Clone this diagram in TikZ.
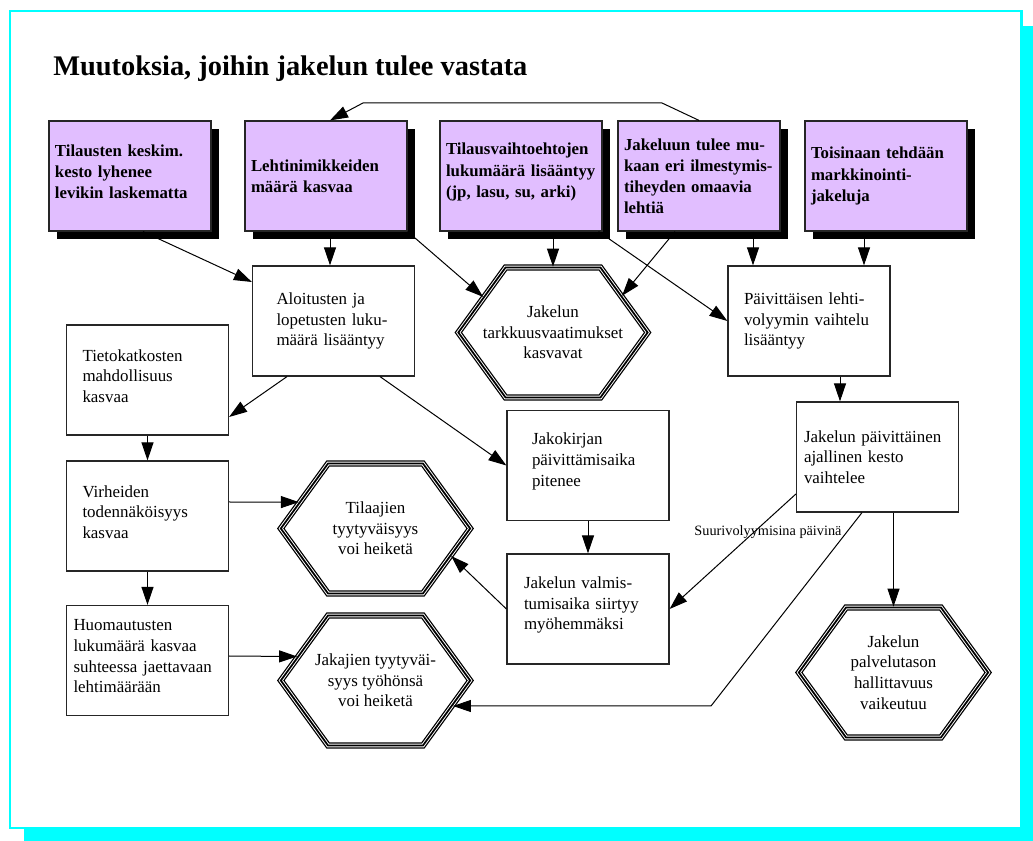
\documentclass[tikz,border=0pt]{standalone}
\usepackage{fontspec}
\setmainfont{Liberation Serif}
\usetikzlibrary{arrows.meta,calc,shadows,shapes.symbols}
\definecolor{lila}{RGB}{225,190,255}
\definecolor{syaani}{RGB}{0,255,255}
\newcommand{\alaraja}{\endgraf\vspace{6pt}}

\begin{document}
\begin{tikzpicture}[x=0.75pt,y=-0.75pt,
    laatikko/.style={draw=black!85, line width=0.9pt, fill=white, minimum width=121.5pt,
      minimum height=82.5pt, inner sep=0pt, align=left, text width=97.5pt,
      font=\fontsize{12.7}{15.5}\selectfont},
    nosto/.style={execute at end node=\alaraja},
    ylaboksi/.style={laatikko, fill=lila, text width=112.5pt,
      font=\fontsize{12.6}{15.8}\selectfont\bfseries,
      drop shadow={shadow xshift=6pt, shadow yshift=-6pt, fill=black, opacity=1}},
    kuusikulmio/.style={shape=signal, signal to=west and east, signal pointer angle=108,
      minimum width=142pt, minimum height=97.5pt, inner xsep=-22pt, inner ysep=0pt,
      align=center, font=\fontsize{12.7}{15.5}\selectfont, draw, line width=1.3pt,
      preaction={draw, line width=4.6pt}, preaction={draw=white, line width=2.7pt}},
    nuoli/.style={-{Triangle[length=13.5pt,width=9pt]}, line width=0.75pt},
    selite/.style={font=\fontsize{10.7}{12}\selectfont, inner sep=0pt}]
  \useasboundingbox (0,0) rectangle (1033,841);
  \fill[syaani] (24,26) rectangle (1033,841);
  \draw[syaani, line width=1.8pt, fill=white] (9.8,11) rectangle (1021.5,828);

  \node[anchor=base west, inner sep=0pt, font=\fontsize{21.3}{25}\selectfont\bfseries]
    (otsikko) at (53,76) {Muutoksia, joihin jakelun tulee vastata};

  \node[ylaboksi, nosto] (b1) at (130,176) {Tilausten keskim.\\kesto lyhenee\\levikin laskematta};
  \node[ylaboksi] (b2) at (326,176) {Lehtinimikkeiden\\määrä kasvaa};
  \node[ylaboksi, nosto] (b3) at (521,176) {Tilausvaihtoehtojen\\lukumäärä lisääntyy\\(jp, lasu, su, arki)};
  \node[ylaboksi] (b4) at (699,176) {Jakeluun tulee mu-\\kaan eri ilmestymis-\\tiheyden omaavia\\lehtiä};
  \node[ylaboksi] (b5) at (886,176) {Toisinaan tehdään\\markkinointi-\\jakeluja};

  \node[laatikko, text width=85.5pt] (aloit) at (333.5,321) {Aloitusten ja\\lopetusten luku-\\määrä lisääntyy};
  \node[kuusikulmio] (tark) at (553,332.5) {Jakelun\\tarkkuusvaatimukset\\kasvavat};
  \node[laatikko] (paiv) at (809,321) {Päivittäisen lehti-\\volyymin vaihtelu\\lisääntyy};
  \node[laatikko, nosto] (tietok) at (147.5,380) {Tietokatkosten\\mahdollisuus\\kasvaa};
  \node[laatikko, nosto, text width=84pt] (jakok) at (588,465.5) {Jakokirjan\\päivittämisaika\\pitenee};
  \node[laatikko, text width=110.25pt] (jakpaiv) at (877.5,457) {Jakelun päivittäinen\\ajallinen kesto\\vaihtelee};
  \node[laatikko, nosto] (virh) at (147.5,516) {Virheiden\\todennäköisyys\\kasvaa};
  \node[kuusikulmio] (tilaajat) at (375.5,528.5) {Tilaajien\\tyytyväisyys\\voi heiketä};
  \node[laatikko, nosto, text width=96pt] (valmis) at (588,609) {Jakelun valmis-\\tumisaika siirtyy\\myöhemmäksi};
  \node[laatikko, nosto, text width=111pt] (huom) at (147.5,660.5) {Huomautusten\\lukumäärä kasvaa\\suhteessa jaettavaan\\lehtimäärään};
  \node[kuusikulmio] (jakajat) at (375.5,680.5) {Jakajien tyytyväi-\\syys työhönsä\\voi heiketä};
  \node[kuusikulmio] (palvelu) at (893.5,672.5) {Jakelun\\palvelutason\\hallittavuus\\vaikeutuu};

  \node[selite] (suuri) at (768,532) {Suurivolyymisina päivinä};
  \coordinate (k1) at (662,103);
  \coordinate (k2) at (363,103);
  \coordinate (kulma) at (711,706);

  \begin{scope}[nuoli]
    \draw (b4.north) -- (k1) -- (k2) -- ($(b2.north)+(4,0)$);
    \draw ($(b1.south)+(13,0)$) -- ($(aloit.west)+(0,-39)$);
    \draw ($(b2.south)+(4,0)$) -- ($(aloit.north)+(-3.5,0)$);
    \draw (b2.south east) -- (tark.153);
    \draw ($(b3.south)+(32,0)$) -- (tark.north);
    \draw ($(b3.south east)+(-4,0)$) -- (paiv.west);
    \draw ($(b4.south)+(-24,0)$) -- (tark.28);
    \draw ($(b4.south)+(54,0)$) -- ($(paiv.north)+(-56,0)$);
    \draw ($(b5.south)+(-22,0)$) -- ($(paiv.north)+(55,0)$);
    \draw ($(aloit.south)+(-46.5,0)$) -- ($(tietok.east)+(0,37)$);
    \draw ($(aloit.south)+(46.5,0)$) -- (jakok.west);
    \draw (tietok) -- (virh);
    \draw ($(virh.east)+(0,-14)$) -- (tilaajat.161);
    \draw (virh) -- (huom);
    \draw ($(huom.east)+(0,-4.5)$) -- (jakajat.163);
    \draw ($(paiv.south)+(31,0)$) -- ($(jakpaiv.north)+(-37.5,0)$);
    \draw (jakok) -- (valmis);
    \draw (valmis.west) -- (tilaajat.-20);
    \draw ($(jakpaiv.west)+(0,37)$) -- (valmis.east);
    \draw ($(jakpaiv.south)+(-15.5,0)$) -- (kulma) -- (jakajat.-18 |- kulma);
    \draw ($(jakpaiv.south)+(16,0)$) -- (palvelu.north);
  \end{scope}
\end{tikzpicture}
\end{document}
